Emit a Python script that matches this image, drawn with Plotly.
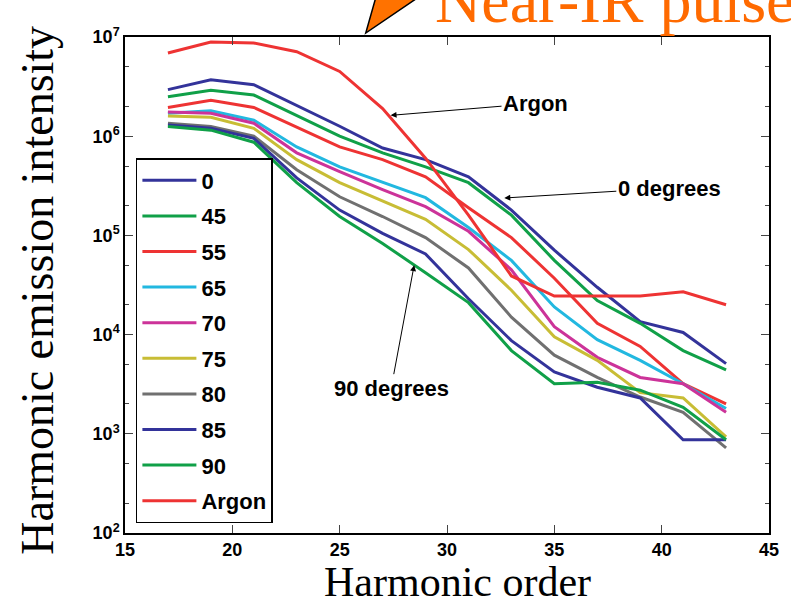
import plotly.graph_objects as go

harmonics = [17, 19, 21, 23, 25, 27, 29, 31, 33, 35, 37, 39, 41, 43]

series_names = ["0", "45", "55", "65", "70", "75", "80", "85", "90", "Argon"]
series_colors = ["#33339a", "#10a048", "#ee3333", "#22b8e0", "#cc3399",
                 "#c8bd35", "#707070", "#33339a", "#10a048", "#ee3333"]

s0 = [2.95e6, 3.7e6, 3.3e6, 2.05e6, 1.26e6, 7.6e5, 5.8e5, 3.9e5, 1.8e5, 7.1e4, 3.0e4, 1.35e4, 1.05e4, 5.1e3]
s45 = [2.5e6, 2.9e6, 2.6e6, 1.6e6, 1.0e6, 6.8e5, 4.9e5, 3.4e5, 1.6e5, 5.6e4, 2.2e4, 1.3e4, 6.9e3, 4.4e3]
s55 = [1.95e6, 2.3e6, 1.95e6, 1.23e6, 7.8e5, 5.8e5, 3.9e5, 1.9e5, 9.5e4, 3.7e4, 1.3e4, 7.6e3, 3.2e3, 2.0e3]
s65 = [1.7e6, 1.8e6, 1.45e6, 7.8e5, 4.9e5, 3.4e5, 2.4e5, 1.2e5, 5.6e4, 1.9e4, 8.9e3, 5.5e3, 3.2e3, 1.8e3]
s70 = [1.75e6, 1.7e6, 1.35e6, 6.8e5, 4.4e5, 2.9e5, 1.95e5, 1.1e5, 4.5e4, 1.2e4, 5.9e3, 3.7e3, 3.2e3, 1.65e3]
s75 = [1.6e6, 1.55e6, 1.2e6, 5.8e5, 3.4e5, 2.2e5, 1.45e5, 7.2e4, 2.8e4, 9.5e3, 5.5e3, 2.6e3, 2.3e3, 930]
s80 = [1.35e6, 1.25e6, 1.0e6, 4.6e5, 2.45e5, 1.55e5, 9.5e4, 4.7e4, 1.5e4, 6.2e3, 3.7e3, 2.35e3, 1.65e3, 720]
s85 = [1.3e6, 1.2e6, 9.5e5, 3.8e5, 1.8e5, 1.05e5, 6.5e4, 2.3e4, 8.7e3, 4.2e3, 2.95e3, 2.3e3, 870, 870]
s90 = [1.25e6, 1.15e6, 8.7e5, 3.4e5, 1.55e5, 8.3e4, 4.2e4, 2.1e4, 6.9e3, 3.2e3, 3.3e3, 2.75e3, 1.85e3, 870]
argon = [6.9e6, 8.9e6, 8.7e6, 7.1e6, 4.5e6, 1.9e6, 6.0e5, 1.6e5, 3.9e4, 2.45e4, 2.45e4, 2.45e4, 2.7e4, 2.0e4]

series_values = [s0, s45, s55, s65, s70, s75, s80, s85, s90, argon]

x_ticks = [15, 20, 25, 30, 35, 40, 45]
y_tickvals = [1e2, 1e3, 1e4, 1e5, 1e6, 1e7]
y_ticktext = ["10<sup>2</sup>", "10<sup>3</sup>", "10<sup>4</sup>", "10<sup>5</sup>", "10<sup>6</sup>", "10<sup>7</sup>"]

W, H = 791, 605
L, R, T, B = 125, 16, 37, 72

fig = go.Figure()
for i, (name, vals, col) in enumerate(zip(series_names, series_values, series_colors)):
    fig.add_trace(go.Scatter(x=harmonics, y=vals, mode="lines", name=name,
                             line=dict(color=col, width=3), legendgroup=f"g{i}"))

sans = "Arial, Liberation Sans, sans-serif"
serif = "Liberation Serif, Times New Roman, serif"
tickfont = dict(family=sans, size=18, color="black", weight="bold")
fig.update_layout(
    width=W, height=H,
    margin=dict(l=L, r=R, t=T, b=B, pad=0),
    plot_bgcolor="white", paper_bgcolor="white",
    showlegend=True,
    legend=dict(x=(136 - L) / 650, y=(533 - 158) / 496, xanchor="left", yanchor="top",
                bordercolor="black", borderwidth=1.5, bgcolor="white",
                font=dict(family=sans, size=22, color="black", weight="bold"),
                tracegroupgap=4, itemwidth=54),
    xaxis=dict(range=[15, 45], tickvals=x_ticks, ticks="inside", ticklen=8, tickwidth=1,
               showline=True, linecolor="black", linewidth=1.5, mirror="allticks",
               showgrid=False, zeroline=False, tickfont=tickfont),
    yaxis=dict(type="log", range=[2, 7], tickvals=y_tickvals, ticktext=y_ticktext,
               ticks="inside", ticklen=8, tickwidth=1,
               minor=dict(ticks="inside", ticklen=4, tickwidth=1, showgrid=False),
               showline=True, linecolor="black", linewidth=1.5, mirror="allticks",
               showgrid=False, zeroline=False, tickfont=tickfont),
)

def px_to_paper(px, py):
    return (px - L) / 650, (H - B - py) / 496

# axis titles
fig.add_annotation(text="Harmonic order", xref="paper", yref="paper",
                   x=px_to_paper(461, 0)[0], y=px_to_paper(0, 582)[1],
                   showarrow=False, xanchor="center", yanchor="middle",
                   font=dict(family=serif, size=42, color="black"))
fig.add_annotation(text="Harmonic emission intensity", xref="paper", yref="paper",
                   x=px_to_paper(36, 0)[0], y=px_to_paper(0, 290)[1], textangle=-90,
                   showarrow=False, xanchor="center", yanchor="middle",
                   font=dict(family=serif, size=46, color="black"))

# orange title text (cut at top)
fig.add_annotation(text="Near-IR pulse", xref="paper", yref="paper",
                   x=px_to_paper(436, 0)[0], y=px_to_paper(0, 38)[1],
                   showarrow=False, xanchor="left", yanchor="bottom",
                   font=dict(family=serif, size=64, color="#ff6a00"))

# orange arrow head
p1 = px_to_paper(368, 33)
p2 = px_to_paper(378, -2)
p3 = px_to_paper(420, -2)
fig.add_shape(type="path", xref="paper", yref="paper",
              path=f"M {p1[0]} {p1[1]} L {p2[0]} {p2[1]} L {p3[0]} {p3[1]} Z",
              fillcolor="#ff7200", line=dict(color="black", width=1.5))

annfont = dict(family=sans, size=22, color="black", weight="bold")
fig.add_annotation(text="Argon", x=27.37, y=6.21, ax=145, ay=-12,
                   showarrow=True, arrowhead=2, arrowsize=1.2, arrowwidth=1, arrowcolor="black",
                   font=annfont)
fig.add_annotation(text="0 degrees", x=32.67, y=5.377, ax=165, ay=-10,
                   showarrow=True, arrowhead=2, arrowsize=1.2, arrowwidth=1, arrowcolor="black",
                   font=annfont)
fig.add_annotation(text="90 degrees", x=28.47, y=4.70, ax=-23, ay=123,
                   showarrow=True, arrowhead=2, arrowsize=1.2, arrowwidth=1, arrowcolor="black",
                   font=annfont)

fig.write_html("out.html")
